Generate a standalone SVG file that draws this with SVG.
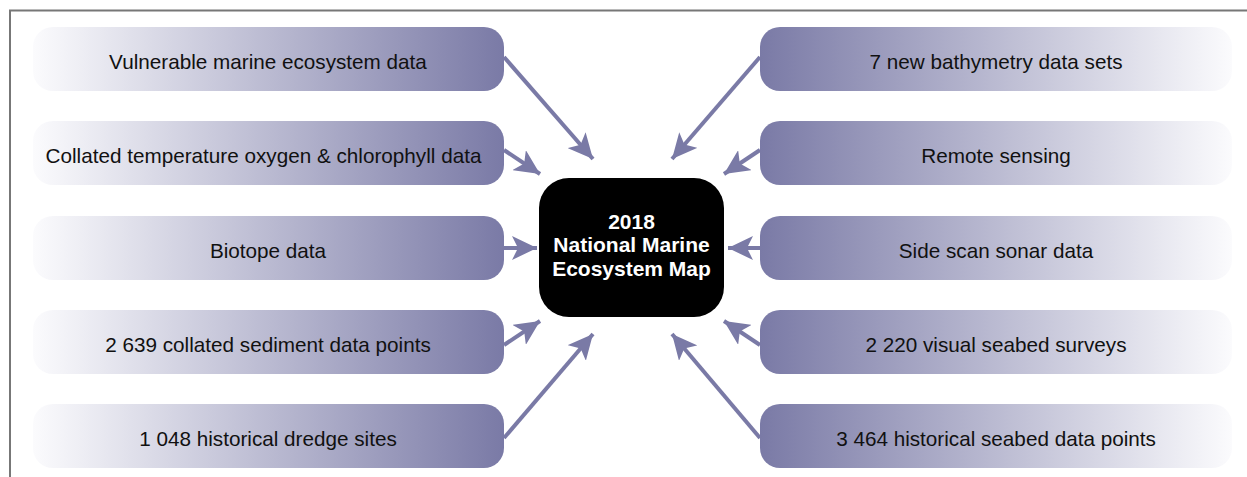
<svg xmlns="http://www.w3.org/2000/svg" width="1247" height="477" viewBox="0 0 1247 477">
<defs>
<linearGradient id="gl" x1="0" y1="0" x2="1" y2="0"><stop offset="0" stop-color="#fbfbfd"/><stop offset="1" stop-color="#7a7aa6"/></linearGradient>
<linearGradient id="gr" x1="0" y1="0" x2="1" y2="0"><stop offset="0" stop-color="#7a7aa6"/><stop offset="1" stop-color="#fbfbfd"/></linearGradient>
<marker id="ah" markerUnits="userSpaceOnUse" markerWidth="26" markerHeight="24" refX="25" refY="12" orient="auto"><path d="M0,0 L25,12 L0,24 L6,12 Z" fill="#7a7aa6"/></marker>
<style>
.bl{fill:url(#gl)}.br{fill:url(#gr)}
.t{font-family:"Liberation Sans",Arial,sans-serif;font-size:20.7px;fill:#111;text-anchor:middle}
.c{font-family:"Liberation Sans",Arial,sans-serif;font-size:21px;font-weight:bold;fill:#fff;text-anchor:middle}
.a{stroke:#7a7aa6;stroke-width:4;fill:none;marker-end:url(#ah)}
</style>
</defs>
<rect width="1247" height="477" fill="#fff"/>
<path d="M10,477 V10.5 H1247" fill="none" stroke="#777" stroke-width="2"/>
<g id="n1"><rect class="bl" x="33" y="27" width="471" height="64" rx="20"/><text class="t" x="268" y="69">Vulnerable marine ecosystem data</text></g>
<g id="n2"><rect class="bl" x="33" y="121" width="471" height="64" rx="20"/><text class="t" x="263.5" y="163">Collated temperature oxygen &amp; chlorophyll data</text></g>
<g id="n3"><rect class="bl" x="33" y="216" width="471" height="64" rx="20"/><text class="t" x="268" y="258">Biotope data</text></g>
<g id="n4"><rect class="bl" x="33" y="310" width="471" height="64" rx="20"/><text class="t" x="268" y="352">2 639 collated sediment data points</text></g>
<g id="n5"><rect class="bl" x="33" y="404" width="471" height="64" rx="20"/><text class="t" x="268" y="446">1 048 historical dredge sites</text></g>
<g id="n6"><rect class="br" x="760" y="27" width="472" height="64" rx="20"/><text class="t" x="996" y="69">7 new bathymetry data sets</text></g>
<g id="n7"><rect class="br" x="760" y="121" width="472" height="64" rx="20"/><text class="t" x="996" y="163">Remote sensing</text></g>
<g id="n8"><rect class="br" x="760" y="216" width="472" height="64" rx="20"/><text class="t" x="996" y="258">Side scan sonar data</text></g>
<g id="n9"><rect class="br" x="760" y="310" width="472" height="64" rx="20"/><text class="t" x="996" y="352">2 220 visual seabed surveys</text></g>
<g id="n10"><rect class="br" x="760" y="404" width="472" height="64" rx="20"/><text class="t" x="996" y="446">3 464 historical seabed data points</text></g>
<g id="center"><rect x="539" y="178" width="185" height="139" rx="30" fill="#000"/><text class="c" x="631.5" y="229">2018</text><text class="c" x="631.5" y="252">National Marine</text><text class="c" x="631.5" y="276">Ecosystem Map</text></g>
<g id="connectors">
<line class="a" x1="504" y1="57" x2="593" y2="159"/>
<line class="a" x1="504" y1="150" x2="540" y2="174"/>
<line class="a" x1="504" y1="248" x2="537" y2="248"/>
<line class="a" x1="504" y1="345" x2="540" y2="321"/>
<line class="a" x1="504" y1="438" x2="593" y2="334"/>
<line class="a" x1="760" y1="57" x2="672" y2="159"/>
<line class="a" x1="760" y1="150" x2="724" y2="174"/>
<line class="a" x1="760" y1="248" x2="728" y2="248"/>
<line class="a" x1="760" y1="345" x2="724" y2="321"/>
<line class="a" x1="760" y1="438" x2="672" y2="334"/>
</g>
</svg>
